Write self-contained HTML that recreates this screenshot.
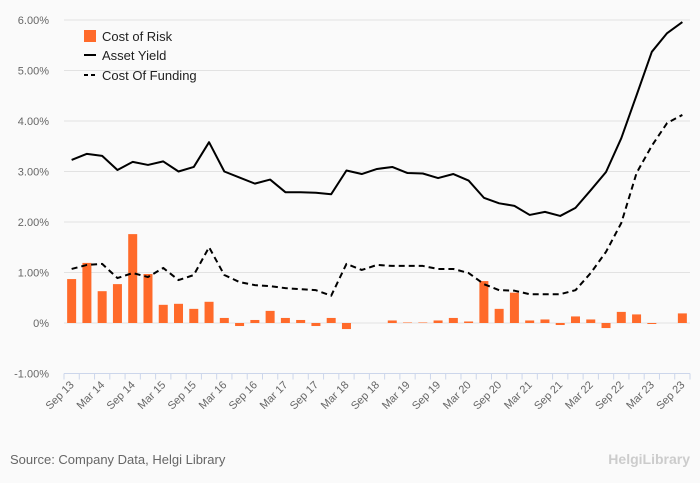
<!DOCTYPE html>
<html><head><meta charset="utf-8"><style>
html,body{margin:0;padding:0;background:#fafafa;}
svg{display:block;font-family:"Liberation Sans",sans-serif;}
</style></head><body>
<svg id="chart" width="700" height="483">
<rect width="700" height="483" fill="#fafafa"/>
<g id="grid"></g><g id="bars"></g><g id="lines"></g><g id="axes"></g>
<g>
<rect x="84" y="30" width="12" height="12" fill="#ff6a2a"/>
<text x="102" y="41" font-size="13" fill="#222">Cost of Risk</text>
<line x1="84" y1="55" x2="96" y2="55" stroke="#000" stroke-width="2"/>
<text x="102" y="60" font-size="13" fill="#222">Asset Yield</text>
<line x1="84" y1="75" x2="96" y2="75" stroke="#000" stroke-width="2" stroke-dasharray="4,3"/>
<text x="102" y="80" font-size="13" fill="#222">Cost Of Funding</text>
</g>
<text x="10" y="464" font-size="13" fill="#666">Source: Company Data, Helgi Library</text>
<text x="690" y="464" font-size="14" fill="#ccc" text-anchor="end" font-weight="bold">HelgiLibrary</text>
</svg>
<script>
const categories = (function(){const a=[];for(let y=13;y<=23;y++){a.push('Mar '+y,'Jun '+y,'Sep '+y,'Dec '+y);}return a.slice(2,43);})();
const costOfRisk = [0.87,1.19,0.63,0.77,1.76,0.97,0.36,0.38,0.28,0.42,0.10,-0.06,0.06,0.24,0.10,0.06,-0.06,0.10,-0.12,0,0,0.05,0.01,0.01,0.05,0.10,0.03,0.83,0.28,0.60,0.05,0.07,-0.04,0.13,0.07,-0.10,0.22,0.17,-0.02,0,0.19];
const assetYield = [3.23,3.35,3.31,3.03,3.19,3.13,3.20,3.00,3.09,3.58,3.00,2.88,2.76,2.84,2.59,2.59,2.58,2.55,3.02,2.95,3.05,3.09,2.97,2.96,2.87,2.95,2.82,2.48,2.37,2.32,2.14,2.20,2.12,2.28,2.63,2.99,3.66,4.51,5.37,5.74,5.96];
const costOfFunding = [1.07,1.15,1.17,0.89,0.99,0.91,1.09,0.85,0.95,1.50,0.95,0.81,0.75,0.73,0.69,0.67,0.65,0.54,1.17,1.05,1.15,1.13,1.13,1.13,1.07,1.07,0.99,0.77,0.65,0.64,0.57,0.57,0.57,0.65,0.99,1.41,1.98,2.97,3.51,3.96,4.12];
const yTicks = [-1,0,1,2,3,4,5,6];
const NS='http://www.w3.org/2000/svg';
const L=64,R=690,Y0=323,PX=50.5;
const bw=(R-L)/categories.length;
const x=i=>L+(i+0.5)*bw;
const y=v=>Y0-v*PX;
function mk(tag,attrs,parent){const e=document.createElementNS(NS,tag);for(const k in attrs)e.setAttribute(k,attrs[k]);document.getElementById(parent).appendChild(e);return e;}
yTicks.forEach(t=>{
  if(t>-1){const g=mk('line',{x1:L,x2:R,y1:y(t),y2:y(t),stroke:'#e2e2e2','stroke-width':1},'grid');
  
  }
  const tx=mk('text',{x:49,y:y(t)+4,'font-size':11,fill:'#666','text-anchor':'end'},'axes');
  tx.textContent=t.toFixed(2)+'%';
  if(t===0)tx.textContent='0%';
  
  
});
const ax=mk('line',{x1:L,x2:R,y1:y(-1),y2:y(-1),stroke:'#ccd6eb','stroke-width':1},'axes');


for(let i=0;i<=categories.length;i++){
  const tk=mk('line',{x1:L+i*bw,x2:L+i*bw,y1:y(-1),y2:y(-1)+6,stroke:'#ccd6eb'},'axes');
  
  
}
categories.forEach((c,i)=>{
  if(i%2)return;
  const tx=mk('text',{x:x(i)+3,y:y(-1)+12,'font-size':11,fill:'#666','text-anchor':'end',transform:`rotate(-45 ${x(i)+3} ${y(-1)+12})`},'axes');
  tx.textContent=c;
  
  
});
costOfRisk.forEach((v,i)=>{
  if(v===0)return;
  const b=mk('rect',{x:x(i)-4.5,width:9,y:Math.min(y(v),Y0),height:Math.abs(y(v)-Y0),fill:'#ff6a2a'},'bars');
  
  
});
function line(data,dash,name){
  const p=mk('path',{d:data.map((v,i)=>(i?'L':'M')+x(i)+' '+y(v)).join(''),fill:'none',stroke:'#000','stroke-width':2,'stroke-dasharray':dash,'stroke-linejoin':'round'},'lines');
  
  
}
line(assetYield,'none','line-asset-yield');
line(costOfFunding,'6,4','line-cost-of-funding');
</script>
</body></html>
